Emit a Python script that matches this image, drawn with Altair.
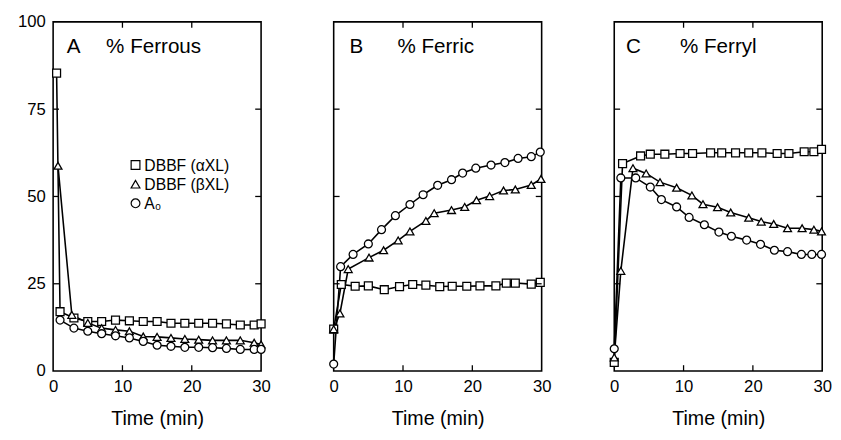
import altair as alt
import pandas as pd

FONT = "Liberation Sans"
SERIES = ["DBBF (αXL)", "DBBF (βXL)", "A₀"]
SHAPES = ["square", "triangle-up", "circle"]
X_TICKS = [0, 10, 20, 30]
Y_TICKS = [0, 25, 50, 75, 100]
X_MINOR = [10, 20]
Y_MINOR = [25, 50, 75]

# Panel A - % Ferrous
a_sq_t = [0.5, 1, 3, 5, 7, 9, 11, 13, 15, 17, 19, 21, 23, 25, 27, 29, 30]
a_sq_v = [85.3, 17.0, 15.2, 14.2, 14.2, 14.6, 14.4, 14.2, 14.2, 13.7, 13.7, 13.7, 13.7, 13.5, 13.2, 13.2, 13.5]
a_tr_t = [0.7, 2.7, 5, 7, 9, 11, 13, 15, 17, 19, 21, 23, 25, 27, 29, 30]
a_tr_v = [58.8, 16.1, 13.8, 12.3, 11.8, 11.4, 9.9, 9.8, 9.5, 9.2, 9.0, 8.8, 8.8, 8.8, 8.1, 7.6]
a_ci_t = [1, 3, 5, 7, 9, 11, 13, 15, 17, 19, 21, 23, 25, 27, 29, 30]
a_ci_v = [14.6, 12.3, 11.4, 10.7, 10.1, 9.5, 8.5, 7.4, 7.1, 6.8, 6.8, 6.7, 6.5, 6.2, 6.2, 6.2]

# Panel B - % Ferric
b_sq_t = [0, 1.1, 3.1, 5, 7.3, 9.5, 11.4, 13.3, 15.3, 17.1, 19.2, 21.1, 23.4, 24.9, 26.2, 28.5, 29.8]
b_sq_v = [12.0, 24.8, 24.3, 24.4, 23.3, 24.2, 24.8, 24.6, 24.2, 24.3, 24.3, 24.4, 24.4, 25.2, 25.2, 24.9, 25.4]
b_tr_t = [0, 0.9, 2.1, 5.1, 7.2, 9.3, 11, 13.3, 14.5, 17, 18.9, 20.6, 22.5, 24.5, 26.2, 28.5, 29.9]
b_tr_v = [12.0, 16.5, 29.2, 32.5, 34.6, 37.4, 40.0, 43.0, 45.2, 46.1, 47.0, 48.9, 50.1, 51.7, 52.0, 53.3, 55.0]
b_ci_t = [0, 1, 2.8, 5, 6.9, 8.9, 11, 12.9, 15, 17, 18.6, 20.5, 22.7, 24.7, 26.6, 28.5, 29.8]
b_ci_v = [2.0, 29.9, 33.4, 36.4, 40.5, 44.5, 47.7, 50.5, 53.2, 54.8, 56.7, 58.1, 59.0, 59.7, 60.9, 61.4, 62.7]

# Panel C - % Ferryl
c_sq_t = [0, 1.2, 3.8, 5.2, 7.3, 9.5, 11.3, 13.9, 15.5, 17.5, 19.4, 21.3, 23.5, 25.2, 27.4, 28.8, 29.9]
c_sq_v = [2.5, 59.4, 61.6, 62.1, 62.1, 62.3, 62.3, 62.5, 62.5, 62.5, 62.5, 62.5, 62.3, 62.3, 62.8, 62.8, 63.5]
c_tr_t = [0, 0.95, 2.7, 4.6, 6.6, 9.0, 11.2, 12.8, 14.9, 16.8, 19.4, 21.2, 23, 25, 27.1, 28.8, 29.9]
c_tr_v = [3.9, 28.7, 58.1, 56.6, 54.1, 52.5, 50.3, 47.8, 46.9, 45.4, 43.9, 42.8, 42.1, 40.9, 40.9, 40.5, 40.0]
c_ci_t = [0, 0.95, 3.1, 5.2, 6.8, 9.0, 10.8, 13, 15.1, 16.9, 19.1, 21.1, 23.1, 25, 27, 28.5, 29.9]
c_ci_v = [6.4, 55.3, 55.3, 52.7, 49.1, 47.0, 44.0, 41.9, 39.8, 38.6, 37.5, 36.3, 34.6, 34.2, 33.4, 33.4, 33.4]


def make_df(parts):
    rows = []
    for name, ts, vs in parts:
        for t, v in zip(ts, vs):
            rows.append({"series": name, "time": t, "value": v})
    return pd.DataFrame(rows)


df_a = make_df([(SERIES[0], a_sq_t, a_sq_v), (SERIES[1], a_tr_t, a_tr_v), (SERIES[2], a_ci_t, a_ci_v)])
df_b = make_df([(SERIES[0], b_sq_t, b_sq_v), (SERIES[1], b_tr_t, b_tr_v), (SERIES[2], b_ci_t, b_ci_v)])
df_c = make_df([(SERIES[0], c_sq_t, c_sq_v), (SERIES[1], c_tr_t, c_tr_v), (SERIES[2], c_ci_t, c_ci_v)])

W, H = 212, 356
xs = alt.Scale(domain=[0, 30], nice=False, zero=False, padding=0)
ys = alt.Scale(domain=[0, 100], nice=False, padding=0)
shape_scale = alt.Scale(domain=SERIES, range=SHAPES)


def legend_layers():
    layers = []
    for i, (name, shp) in enumerate(zip(SERIES, SHAPES)):
        d = pd.DataFrame({"series": [name]})
        yy = 146 + 19.5 * i
        layers.append(alt.Chart(d).mark_point(
            shape=shp, size=80, filled=False, fill="white", fillOpacity=1,
            stroke="black", strokeWidth=1.2, opacity=1).encode(
            x=alt.value(84), y=alt.value(yy)))
        layers.append(alt.Chart(d).mark_text(
            align="left", baseline="middle", fontSize=16, font=FONT, color="black").encode(
            text="series:N", x=alt.value(93), y=alt.value(yy + 1)))
    return layers


def panel(df, letter, title, lx, tx, first):
    x_axis = alt.Axis(values=X_TICKS, ticks=False, domain=False, grid=False, labelFlush=False,
                      labelFontSize=17, labelPadding=8, labelFont=FONT, labelColor="black",
                      title="Time (min)", titleFont=FONT, titleFontSize=20,
                      titleFontWeight="normal", titlePadding=14, titleColor="black", format="d")
    if first:
        y_axis = alt.Axis(values=Y_TICKS, ticks=False, domain=False, grid=False, labelFlush=False,
                          labelFontSize=17, labelPadding=8, labelFont=FONT, labelColor="black",
                          title="", format="d")
    else:
        y_axis = None

    X = lambda f: alt.X(f, scale=xs, axis=x_axis)
    Y = lambda f: alt.Y(f, scale=ys, axis=y_axis)

    base = alt.Chart(df)
    lines = base.mark_line(color="black", strokeWidth=1.6).encode(
        x=X("time:Q"), y=Y("value:Q"), detail="series:N",
    )
    pts = base.mark_point(filled=False, color="black", fill="white", fillOpacity=1,
                          stroke="black", strokeWidth=1.3, size=65, opacity=1).encode(
        x=X("time:Q"), y=Y("value:Q"),
        shape=alt.Shape("series:N", scale=shape_scale, legend=None),
    )
    ytk = pd.DataFrame({"tick": Y_MINOR})
    xtk = pd.DataFrame({"tick": X_MINOR})
    left = alt.Chart(ytk).mark_rule(color="black", strokeWidth=1.3).encode(
        y=Y("tick:Q"), x=alt.value(0), x2=alt.value(6))
    right = alt.Chart(ytk).mark_rule(color="black", strokeWidth=1.3).encode(
        y=Y("tick:Q"), x=alt.value(W - 6), x2=alt.value(W))
    bottom = alt.Chart(xtk).mark_rule(color="black", strokeWidth=1.3).encode(
        x=X("tick:Q"), y=alt.value(H - 6), y2=alt.value(H))
    top = alt.Chart(xtk).mark_rule(color="black", strokeWidth=1.3).encode(
        x=X("tick:Q"), y=alt.value(0), y2=alt.value(6))
    t1 = alt.Chart(pd.DataFrame({"label": [letter]})).mark_text(
        align="left", baseline="alphabetic", fontSize=21, font=FONT, color="black").encode(
        text="label:N", x=alt.value(lx), y=alt.value(32))
    t2 = alt.Chart(pd.DataFrame({"label": [title]})).mark_text(
        align="left", baseline="alphabetic", fontSize=21, font=FONT, color="black").encode(
        text="label:N", x=alt.value(tx), y=alt.value(32))
    layers = [lines, pts, left, right, bottom, top, t1, t2]
    if first:
        layers += legend_layers()
    return alt.layer(*layers).properties(width=W, height=H)


pa = panel(df_a, "A", "% Ferrous", 14, 54, True)
pb = panel(df_b, "B", "% Ferric", 16, 65, False)
pc = panel(df_c, "C", "% Ferryl", 12, 67, False)

chart = alt.hconcat(pa, pb, pc, spacing=55).properties(
    padding={"left": 8, "top": 0, "right": 0, "bottom": 0},
    background="white",
).configure_view(stroke="black", strokeWidth=1.6)

chart.save("out.html", embed_options={"renderer": "svg", "actions": False})
